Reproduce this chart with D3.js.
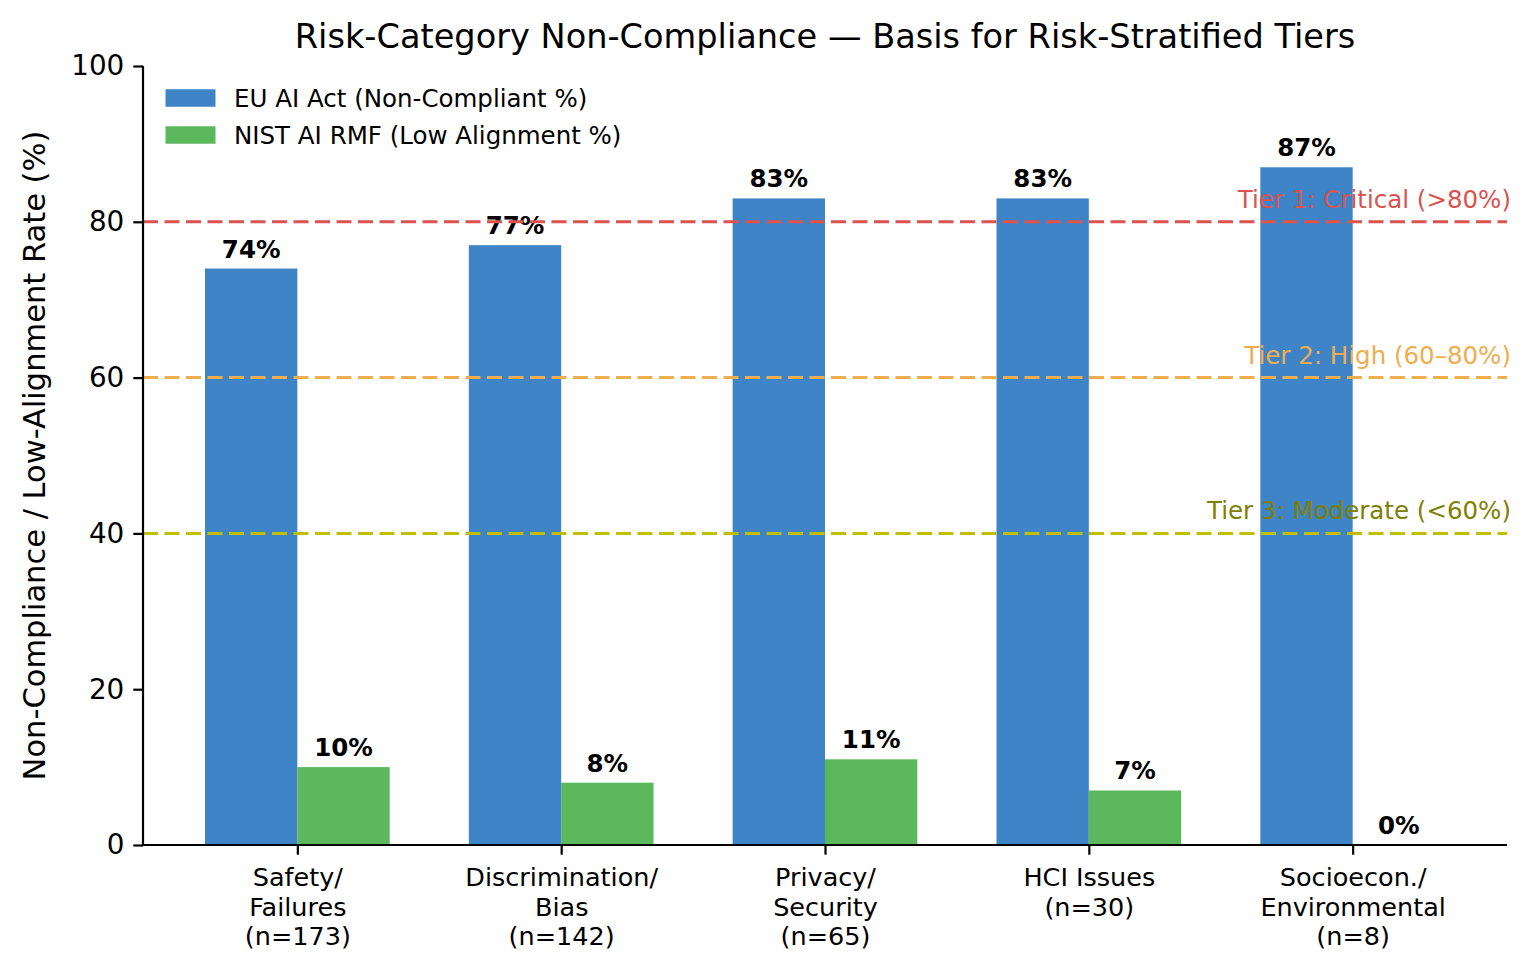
<!DOCTYPE html>
<html>
<head>
<meta charset="utf-8">
<script src="https://cdn.jsdelivr.net/npm/d3@7"></script>
<style>
  html, body { margin: 0; padding: 0; background: #ffffff; }
  svg { display: block; font-family: "DejaVu Sans", sans-serif; }
</style>
</head>
<body>
<svg id="chart" width="1532" height="974"></svg>
<script>
// ---- data ----
const categories = [
  ["Safety/", "Failures", "(n=173)"],
  ["Discrimination/", "Bias", "(n=142)"],
  ["Privacy/", "Security", "(n=65)"],
  ["HCI Issues", "(n=30)"],
  ["Socioecon./", "Environmental", "(n=8)"]
];
const euValues = [74, 77, 83, 83, 87];
const nistValues = [10, 8, 11, 7, 0];
const seriesNames = ["EU AI Act (Non-Compliant %)", "NIST AI RMF (Low Alignment %)"];
const yTicks = [0, 20, 40, 60, 80, 100];
const tiers = [
  { value: 80, label: "Tier 1: Critical (>80%)", line: "#d9534f", text: "#d9534f" },
  { value: 60, label: "Tier 2: High (60\u201380%)", line: "#f0ad4e", text: "#f0ad4e" },
  { value: 40, label: "Tier 3: Moderate (<60%)", line: "#bfbf00", text: "#808000" }
];
const chartTitle = "Risk-Category Non-Compliance \u2014 Basis for Risk-Stratified Tiers";
const yLabel = "Non-Compliance / Low-Alignment Rate (%)";

// ---- layout ----
const colors = ["#3f84c6", "#5cb85c"];
const M = { left: 143, right: 1507, top: 66, bottom: 845 };
const barW = 0.35;
const svg = d3.select("#chart");

const x = d3.scaleLinear().domain([-0.585, 4.585]).range([M.left, M.right]);
const y = d3.scaleLinear().domain([0, 100]).range([M.bottom, M.top]);

// bars
const series = [euValues, nistValues];
series.forEach((vals, s) => {
  const off = s === 0 ? -barW : 0;
  svg.append("g").selectAll("rect").data(vals).join("rect")
    .attr("x", (d, i) => x(i + off))
    .attr("width", x(barW) - x(0))
    .attr("y", d => y(d))
    .attr("height", d => y(0) - y(d))
    .attr("fill", colors[s]);
  svg.append("g").selectAll("text").data(vals).join("text")
    .attr("x", (d, i) => x(i + off + barW / 2))
    .attr("y", d => y(d) - 11)
    .attr("text-anchor", "middle")
    .attr("font-size", 24.5)
    .attr("font-weight", "bold")
    .attr("fill", "#000")
    .text(d => d + "%");
});

// tier lines
const tg = svg.append("g");
tiers.forEach(t => {
  tg.append("line")
    .attr("x1", M.left).attr("x2", M.right)
    .attr("y1", y(t.value)).attr("y2", y(t.value))
    .attr("stroke", t.line).attr("stroke-width", 3)
    .attr("stroke-dasharray", "15,6.5");
  tg.append("text")
    .attr("x", x(4.6)).attr("y", y(t.value) - 14)
    .attr("text-anchor", "end")
    .attr("font-size", 24.5)
    .attr("fill", t.text)
    .text(t.label);
});

// axes
const yAxis = d3.axisLeft(y).tickValues(yTicks).tickSize(9.7).tickPadding(9);
const gy = svg.append("g").attr("transform", `translate(${M.left},0)`).call(yAxis);
gy.select(".domain").attr("stroke", "#000").attr("stroke-width", 2.2).attr("d", `M0,${M.bottom}V${M.top}`);
gy.selectAll(".tick line").attr("stroke", "#000").attr("stroke-width", 2.2);
gy.selectAll(".tick text").attr("font-size", 27.8).attr("font-family", "DejaVu Sans").attr("fill", "#000");

const xAxis = d3.axisBottom(x).tickValues(d3.range(categories.length)).tickSize(9.7).tickFormat("");
const gx = svg.append("g").attr("transform", `translate(0,${M.bottom})`).call(xAxis);
gx.select(".domain").attr("stroke", "#000").attr("stroke-width", 2.2).attr("d", `M${M.left},0H${M.right}`);
gx.selectAll(".tick line").attr("stroke", "#000").attr("stroke-width", 2.2);
gx.selectAll(".tick").each(function(d) {
  const t = d3.select(this).append("text")
    .attr("text-anchor", "middle")
    .attr("font-size", 25.5)
    .attr("font-family", "DejaVu Sans")
    .attr("fill", "#000");
  categories[d].forEach((line, k) => {
    t.append("tspan").attr("x", 0).attr("y", 41 + k * 29.5).text(line);
  });
});

// title
svg.append("text")
  .attr("x", (M.left + M.right) / 2).attr("y", 48)
  .attr("text-anchor", "middle")
  .attr("font-size", 33.6)
  .attr("fill", "#000")
  .text(chartTitle);

// y label
svg.append("text")
  .attr("transform", `translate(45,${(M.top + M.bottom) / 2}) rotate(-90)`)
  .attr("text-anchor", "middle")
  .attr("font-size", 30.5)
  .attr("fill", "#000")
  .text(yLabel);

// legend
const lg = svg.append("g");
seriesNames.forEach((name, i) => {
  const cy = 98 + i * 37;
  lg.append("rect").attr("x", 165.5).attr("y", cy - 8.75).attr("width", 50).attr("height", 17.5).attr("fill", colors[i]);
  lg.append("text").attr("x", 234).attr("y", cy + 9).attr("font-size", 24.5).attr("fill", "#000").text(name);
});
</script>
</body>
</html>
